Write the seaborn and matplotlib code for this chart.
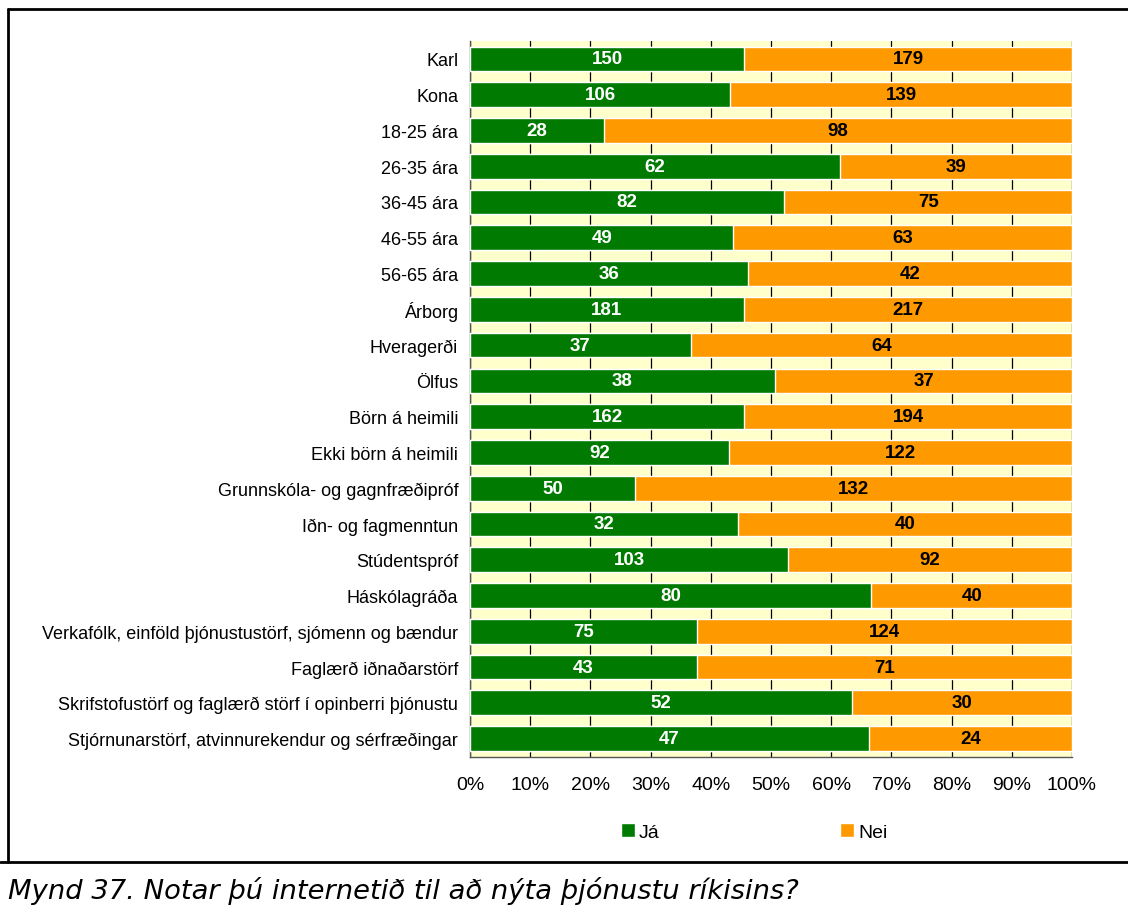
import pandas as pd
import seaborn as sns
import matplotlib.pyplot as plt
from matplotlib.lines import Line2D
from matplotlib.patches import Patch
from matplotlib.ticker import FixedLocator

# Data
groups = ["Karl", "Kona", "18-25 ára", "26-35 ára", "36-45 ára", "46-55 ára",
          "56-65 ára", "Árborg", "Hveragerði", "Ölfus", "Börn á heimili",
          "Ekki börn á heimili", "Grunnskóla- og gagnfræðipróf",
          "Iðn- og fagmenntun", "Stúdentspróf", "Háskólagráða",
          "Verkafólk, einföld þjónustustörf, sjómenn og bændur",
          "Faglærð iðnaðarstörf",
          "Skrifstofustörf og faglærð störf í opinberri þjónustu",
          "Stjórnunarstörf, atvinnurekendur og sérfræðingar"]
ja = [150, 106, 28, 62, 82, 49, 36, 181, 37, 38, 162, 92, 50, 32, 103, 80, 75, 43, 52, 47]
nei = [179, 139, 98, 39, 75, 63, 42, 217, 64, 37, 194, 122, 132, 40, 92, 40, 124, 71, 30, 24]
x_ticks = [0, 10, 20, 30, 40, 50, 60, 70, 80, 90, 100]
caption = "Mynd 37. Notar þú internetið til að nýta þjónustu ríkisins?"

green = "#007A00"
orange = "#FF9900"

df = pd.DataFrame({"group": groups, "ja": ja, "nei": nei})
df["ja_pct"] = df["ja"] / (df["ja"] + df["nei"]) * 100
df["total"] = 100.0

sns.set_style("white")
plt.rcParams["font.family"] = ["Liberation Sans", "DejaVu Sans"]
plt.rcParams["text.color"] = "black"
plt.rcParams["xtick.color"] = "black"
plt.rcParams["ytick.color"] = "black"

fig = plt.figure(figsize=(11.28, 9.2), dpi=100)
ax = fig.add_axes([470 / 1128, 1 - 757.5 / 920, (1072 - 470) / 1128, (757.5 - 42) / 920])
ax.set_facecolor("#FFFFCC")

sns.barplot(data=df, y="group", x="total", color=orange, orient="h",
            width=0.69, saturation=1, ax=ax, zorder=3)
sns.barplot(data=df, y="group", x="ja_pct", color=green, orient="h",
            width=0.69, saturation=1, ax=ax, zorder=3)

ax.bar_label(ax.containers[1], labels=[str(v) for v in ja], label_type="center",
             color="white", fontweight="bold", fontsize=13.5)
nei_labels = [str(v) for v in nei]
for bar, j, lab in zip(ax.containers[0], ax.containers[1], nei_labels):
    cx = (j.get_width() + 100) / 2
    ax.text(cx, bar.get_y() + bar.get_height() / 2, lab, ha="center", va="center",
            color="black", fontweight="bold", fontsize=13.5, zorder=4)

ax.set_xlim(0, 100)
ax.set_ylim(len(groups) - 0.5, -0.5)
ax.set_xticks(x_ticks)
ax.set_xticklabels([f"{t}%" for t in x_ticks], fontsize=14)
ax.set_xlabel("")
ax.set_ylabel("")
ax.tick_params(axis="y", length=0, labelsize=13, pad=8.5)
ax.yaxis.set_minor_locator(FixedLocator([i - 0.5 for i in range(len(groups) + 1)]))
ax.tick_params(axis="y", which="minor", length=3.6, width=1, color="#555555", direction="out")
ax.tick_params(axis="x", length=3.6, width=1, color="#555555", direction="out", pad=10.5)
for t in x_ticks:
    ax.axvline(t, color="black", lw=0.9, zorder=1)

for side in ["top", "right"]:
    ax.spines[side].set_visible(False)
for side in ["left", "bottom"]:
    ax.spines[side].set_color("#555555")
    ax.spines[side].set_linewidth(1)

handles = [Patch(facecolor=green, label="Já"), Patch(facecolor=orange, label="Nei")]
fig.legend(handles=handles, loc="center", bbox_to_anchor=(754 / 1128, 1 - 833 / 920),
           ncol=2, frameon=False, fontsize=14, handlelength=0.72, handleheight=0.72,
           handletextpad=0.2, columnspacing=9.3)

# outer frame and caption
fig.add_artist(Line2D([8 / 1128, 8 / 1128], [1 - 10 / 920, 1 - 863 / 920],
                      transform=fig.transFigure, color="black", lw=2))
fig.add_artist(Line2D([8 / 1128, 1], [1 - 10 / 920, 1 - 10 / 920],
                      transform=fig.transFigure, color="black", lw=2))
fig.add_artist(Line2D([0, 1], [1 - 863 / 920, 1 - 863 / 920],
                      transform=fig.transFigure, color="black", lw=2))
fig.text(8 / 1128, 1 - 891 / 920, caption, family="DejaVu Sans", style="italic",
         fontsize=19.7, va="center", ha="left", color="black")

fig.savefig("out.png", dpi=100, facecolor="white")
